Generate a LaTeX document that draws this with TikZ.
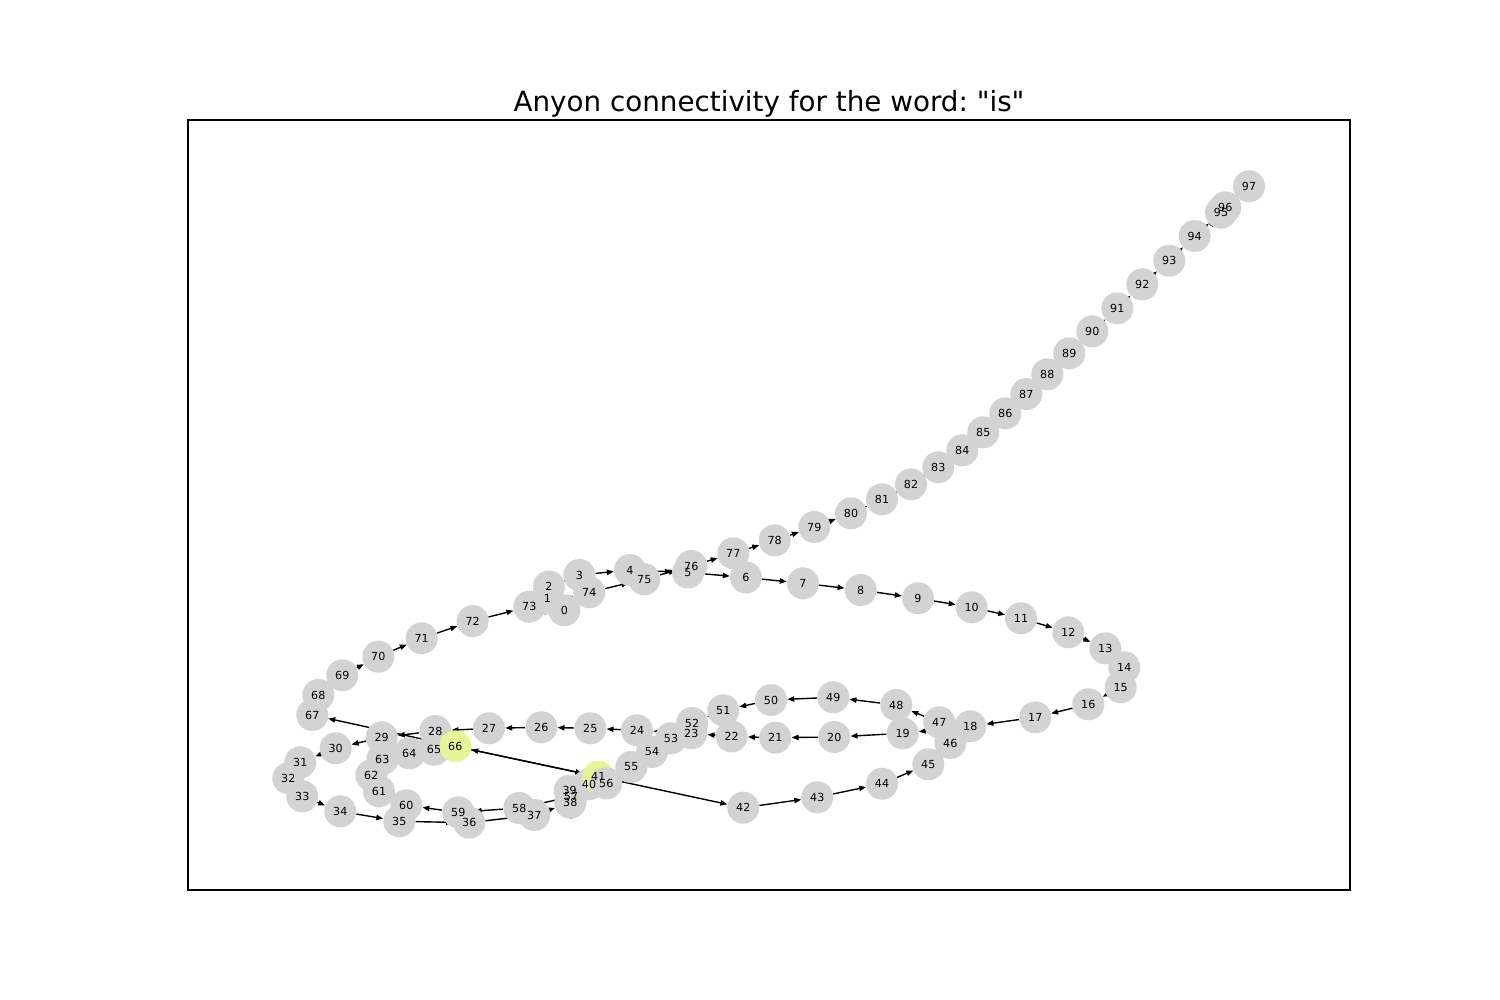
\documentclass[tikz,border=0pt]{standalone}
\usepackage{fontspec}
\setmainfont{DejaVu Sans}
\newfontfamily\plainfont{DejaVu Sans}
\usetikzlibrary{arrows.meta}
\definecolor{nodegray}{HTML}{D3D3D3}
\definecolor{hl}{HTML}{E6F598}
\pgfdeclarelayer{background}
\pgfdeclarelayer{foreground}
\pgfsetlayers{background,main,foreground}
\frenchspacing
\begin{document}
\begin{tikzpicture}[x=0.72pt,y=-0.72pt,
  anyon/.style={circle,minimum size=23.04pt,inner sep=0pt,draw=none},
  link/.style={line width=1pt,-{Triangle[length=5pt,width=3.8pt]}},
  lbl/.style={font=\fontsize{8}{9.6}\selectfont,inner sep=0pt},
  frame/.style={line width=0.8pt}]
\useasboundingbox (0,0) rectangle (1500,1000);
\node[font=\plainfont\fontsize{20}{24}\selectfont,anchor=base,inner sep=0pt] (title) at (769,111.7) {Anyon connectivity for the word: "is"};
\draw[frame] (188,120) rectangle (1350,890);
\foreach \n/\x/\y/\c in {
0/564.3/610.3/nodegray, 1/547.3/598.3/nodegray, 2/549/586.5/nodegray, 3/579.3/575/nodegray,
4/630/570/nodegray, 5/688/572.5/nodegray, 6/746/577.5/nodegray, 7/803/583.3/nodegray,
8/860.7/590/nodegray, 9/918/598.3/nodegray, 10/971.7/607.3/nodegray, 11/1021/618.3/nodegray,
12/1068.3/632.3/nodegray, 13/1105.3/648.3/nodegray, 14/1124.3/667.3/nodegray, 15/1120.7/687.3/nodegray,
16/1088.3/704.3/nodegray, 17/1035.3/717.3/nodegray, 18/970.3/726.3/nodegray, 19/902.7/733.3/nodegray,
20/834.3/737/nodegray, 21/775.3/737.7/nodegray, 22/731.7/736.5/nodegray, 23/691.3/733.3/nodegray,
24/637/730.3/nodegray, 25/590.3/728.3/nodegray, 26/541.3/727.3/nodegray, 27/489/728.3/nodegray,
28/435.3/731/nodegray, 29/381.7/737.3/nodegray, 30/335.7/748.3/nodegray, 31/300.3/762.3/nodegray,
32/288.3/778.3/nodegray, 33/302.3/796.3/nodegray, 34/340.3/811.3/nodegray, 35/399.3/821.3/nodegray,
36/469.3/822.7/nodegray, 37/534.3/815/nodegray, 38/570.3/802.7/nodegray, 39/569.7/790.7/nodegray,
40/589/784.3/nodegray, 41/598.3/776.7/hl, 42/743.3/807.7/nodegray, 43/817.3/797.3/nodegray,
44/882/783.7/nodegray, 45/928.3/764.3/nodegray, 46/950.3/743/nodegray, 47/939.3/722.3/nodegray,
48/896.3/705/nodegray, 49/833.3/697.3/nodegray, 50/771/700/nodegray, 51/723.3/710.3/nodegray,
52/692/723/nodegray, 53/671/738.3/nodegray, 54/652/752/nodegray, 55/631.3/767/nodegray,
56/606.3/783.3/nodegray, 57/571/796.7/nodegray, 58/519.3/808/nodegray, 59/458.3/812.3/nodegray,
60/406.3/805.3/nodegray, 61/379/791.3/nodegray, 62/371.3/775.3/nodegray, 63/382.3/759.3/nodegray,
64/409.3/753.3/nodegray, 65/434/749.7/nodegray, 66/455.3/746.3/hl, 67/312.3/715/nodegray,
68/318.3/695/nodegray, 69/342.3/675.3/nodegray, 70/378.3/656.7/nodegray, 71/421.7/638.3/nodegray,
72/472.7/621/nodegray, 73/529.3/606.7/nodegray, 74/589.3/592.3/nodegray, 75/644.3/579.3/nodegray,
76/691.3/566/nodegray, 77/733.3/553.3/nodegray, 78/774.7/540.3/nodegray, 79/814.3/527/nodegray,
80/851/513.3/nodegray, 81/882/499.3/nodegray, 82/911/484.3/nodegray, 83/938.3/467.3/nodegray,
84/962.3/450.3/nodegray, 85/983.3/432.3/nodegray, 86/1005.3/413.3/nodegray, 87/1026.3/394/nodegray,
88/1047.3/374.3/nodegray, 89/1069.3/353.3/nodegray, 90/1092.3/331.3/nodegray, 91/1117.3/308.3/nodegray,
92/1142.3/284.3/nodegray, 93/1169.3/260.7/nodegray, 94/1194.7/236/nodegray, 95/1221/212.7/nodegray,
96/1225.3/207.3/nodegray, 97/1249/186.3/nodegray}
{\node[anyon,fill=\c] (n\n) at (\x,\y) {};}
\begin{pgfonlayer}{background}
\foreach \i in {0,...,96}{
  \pgfmathtruncatemacro\j{\i+1}
  \draw[link] (n\i) -- (n\j);
}
\draw[link] (n41) -- (n66);
\draw[link] (n66) -- (n41);
\end{pgfonlayer}
\begin{pgfonlayer}{foreground}
\foreach \n in {0,...,97}{\node[lbl] (t\n) at (n\n) {\n};}
\end{pgfonlayer}
\end{tikzpicture}
\end{document}
